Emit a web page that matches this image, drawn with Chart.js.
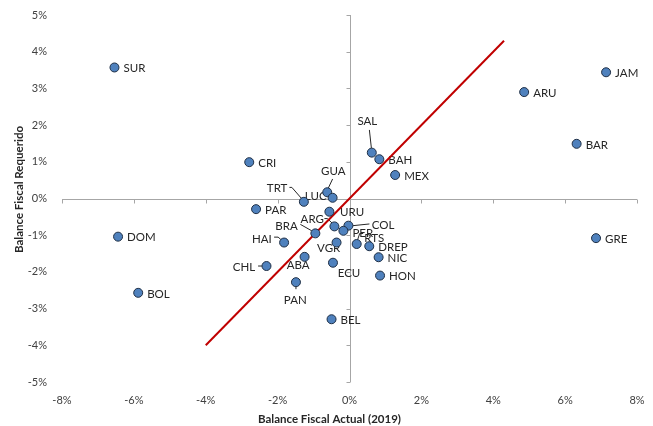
<!DOCTYPE html>
<html>
<head>
<meta charset="utf-8">
<script src="https://cdn.jsdelivr.net/npm/chart.js@4.4.1/dist/chart.umd.min.js"></script>
<style>
  html, body { margin: 0; padding: 0; background: #fff; }
</style>
</head>
<body>
<canvas id="fiscalScatter" width="653" height="426"></canvas>
<script>
// country codes and values (% of GDP)
const countries = ["SUR", "JAM", "ARU", "BAR", "SAL", "BAH", "MEX", "CRI", "GUA", "LUC",
  "TRT", "PAR", "URU", "ARG", "COL", "PER", "BRA", "HAI", "VGR", "RTS",
  "DREP", "NIC", "HON", "ABA", "CHL", "ECU", "PAN", "BEL", "DOM", "BOL", "GRE"];
const actualBalance = [-6.54, 7.14, 4.86, 6.32, 0.62, 0.83, 1.27, -2.79, -0.62, -0.47,
  -1.27, -2.60, -0.56, -0.42, -0.03, -0.17, -0.95, -1.82, -0.36, 0.20,
  0.55, 0.81, 0.85, -1.25, -2.31, -0.46, -1.49, -0.50, -6.44, -5.88, 6.86];
const requiredBalance = [3.57, 3.44, 2.90, 1.49, 1.25, 1.07, 0.64, 0.99, 0.17, 0.02,
  -0.09, -0.29, -0.36, -0.76, -0.74, -0.88, -0.95, -1.20, -1.20, -1.24,
  -1.30, -1.60, -2.10, -1.59, -1.84, -1.75, -2.28, -3.29, -1.04, -2.57, -1.08];
const refLineX = [-4, 4.3];
const refLineY = [-4, 4.3];
const xTicks = [-8, -6, -4, -2, 0, 2, 4, 6, 8];
const yTicks = [-5, -4, -3, -2, -1, 0, 1, 2, 3, 4, 5];

// where each label sits relative to its point (px); default is to the right
const labelLayout = {
  SAL: { dx: -4.4, dy: -32, align: "center", leader: [[-2.4, -22.7], [-0.4, -4.5]] },
  GUA: { dx: 6, dy: -22.3, align: "center", leader: [[5.4, -13.3], [1, -4]] },
  TRT: { dx: -16.5, dy: -14.4, align: "right", leader: [[-14.4, -14.4], [-12, -14.4], [-2.5, -3.5]] },
  LUC: { dx: -6, dy: -2, align: "right" },
  URU: { dx: 10.7, dy: 0, align: "left" },
  ARG: { dx: -10.5, dy: -7.8, align: "right", leader: [[-10, -7.8], [-7, -7.8], [-2, -3]] },
  BRA: { dx: -17.6, dy: -8.3, align: "right", leader: [[-15, -9], [-3.5, -2.5]] },
  HAI: { dx: -12.3, dy: -4.4, align: "right", leader: [[-10, -5.4], [-6, -5.4], [-3.2, -3]] },
  CHL: { dx: -11.3, dy: 0, align: "right", leader: [[-8.4, 0], [-4.5, 0]] },
  ABA: { dx: -6.5, dy: 7.3, align: "center" },
  VGR: { dx: -7.9, dy: 5, align: "center" },
  ECU: { dx: 16, dy: 10, align: "center" },
  PAN: { dx: -0.7, dy: 16.7, align: "center", leader: [[0, 4.5], [0, 7]] },
  COL: { dx: 23.4, dy: -1.5, align: "left", leader: [[4.5, 0], [21, -1.7]] },
  PER: { dx: 9, dy: 2, align: "left" },
  RTS: { dx: 7.6, dy: -6.7, align: "left", leader: [[1, -4.5], [3, -10.5], [6.5, -10.5]] }
};

const FONT = "Lato, 'Open Sans', sans-serif";

// gray cross at zero with small tick marks
const zeroAxes = {
  id: "zeroAxes",
  beforeDatasetsDraw(chart) {
    const { ctx, chartArea, scales } = chart;
    const x0 = Math.round(scales.x.getPixelForValue(0)) + 0.5;
    const y0 = Math.round(scales.y.getPixelForValue(0)) + 0.5;
    ctx.save();
    ctx.strokeStyle = "#a6a6a6";
    ctx.lineWidth = 1;
    ctx.beginPath();
    ctx.moveTo(x0, chartArea.top);
    ctx.lineTo(x0, chartArea.bottom);
    ctx.moveTo(chartArea.left, y0);
    ctx.lineTo(chartArea.right, y0);
    yTicks.forEach(v => {
      const py = Math.round(scales.y.getPixelForValue(v)) + 0.5;
      ctx.moveTo(x0 - 4, py);
      ctx.lineTo(x0, py);
    });
    xTicks.forEach(v => {
      const px = Math.round(scales.x.getPixelForValue(v)) + 0.5;
      ctx.moveTo(px, y0);
      ctx.lineTo(px, y0 + 4);
    });
    ctx.stroke();
    ctx.restore();
  }
};

const pointLabels = {
  id: "pointLabels",
  beforeDatasetsDraw(chart) {
    const ctx = chart.ctx;
    const meta = chart.getDatasetMeta(0);
    ctx.save();
    ctx.font = "11.5px " + FONT;
    ctx.fillStyle = "#262626";
    ctx.strokeStyle = "#262626";
    ctx.lineWidth = 1;
    ctx.textBaseline = "middle";
    meta.data.forEach((pt, i) => {
      const lay = Object.assign({ dx: 9, dy: 0, align: "left" }, labelLayout[countries[i]]);
      if (lay.leader) {
        ctx.beginPath();
        lay.leader.forEach(([lx, ly], k) => {
          if (k === 0) ctx.moveTo(pt.x + lx, pt.y + ly);
          else ctx.lineTo(pt.x + lx, pt.y + ly);
        });
        ctx.stroke();
      }
      ctx.textAlign = lay.align;
      ctx.fillText(countries[i], pt.x + lay.dx, pt.y + lay.dy + 1);
    });
    ctx.restore();
  }
};

// axis titles (sit slightly off-centre like the original)
const axisTitles = {
  id: "axisTitles",
  afterDraw(chart) {
    const { ctx, chartArea } = chart;
    ctx.save();
    ctx.font = "bold 11.5px " + FONT;
    ctx.fillStyle = "#262626";
    ctx.textAlign = "center";
    ctx.textBaseline = "middle";
    ctx.fillText("Balance Fiscal Actual (2019)", (chartArea.left + chartArea.right) / 2 - 20, chartArea.bottom + 37);
    ctx.translate(chartArea.left - 43, (chartArea.top + chartArea.bottom) / 2 - 9);
    ctx.rotate(-Math.PI / 2);
    ctx.fillText("Balance Fiscal Requerido", 0, 0);
    ctx.restore();
  }
};

const ctx = document.getElementById("fiscalScatter").getContext("2d");

new Chart(ctx, {
  type: "scatter",
  data: {
    datasets: [
      {
        label: "Países",
        data: countries.map((c, i) => ({ x: actualBalance[i], y: requiredBalance[i] })),
        backgroundColor: "#4f81bd",
        borderColor: "#1f2f45",
        borderWidth: 1,
        pointRadius: 4.5,
        pointHoverRadius: 4.5
      },
      {
        label: "45°",
        data: refLineX.map((x, i) => ({ x: x, y: refLineY[i] })),
        showLine: true,
        borderColor: "#c00000",
        borderWidth: 2,
        pointRadius: 0,
        fill: false
      }
    ]
  },
  options: {
    responsive: false,
    animation: false,
    layout: { padding: { top: 15, right: 16, left: 0, bottom: 0 } },
    plugins: {
      legend: { display: false },
      tooltip: { enabled: false }
    },
    scales: {
      x: {
        type: "linear",
        min: -8,
        max: 8,
        afterBuildTicks: s => { s.ticks = xTicks.map(v => ({ value: v })); },
        afterFit: s => { s.height = 44; s.paddingLeft = 0; s.paddingRight = 0; },
        grid: { display: false, drawTicks: false },
        border: { display: false },
        ticks: {
          padding: 12,
          color: "#404040",
          font: { family: FONT, size: 11 },
          callback: v => v + "%"
        }
      },
      y: {
        type: "linear",
        min: -5,
        max: 5,
        afterBuildTicks: s => { s.ticks = yTicks.map(v => ({ value: v })); },
        afterFit: s => { s.width = 62; s.paddingTop = 0; s.paddingBottom = 0; },
        grid: { display: false, drawTicks: false },
        border: { display: false },
        ticks: {
          padding: 15,
          color: "#404040",
          font: { family: FONT, size: 11 },
          callback: v => v + "%"
        }
      }
    }
  },
  plugins: [zeroAxes, pointLabels, axisTitles]
});
</script>
</body>
</html>
